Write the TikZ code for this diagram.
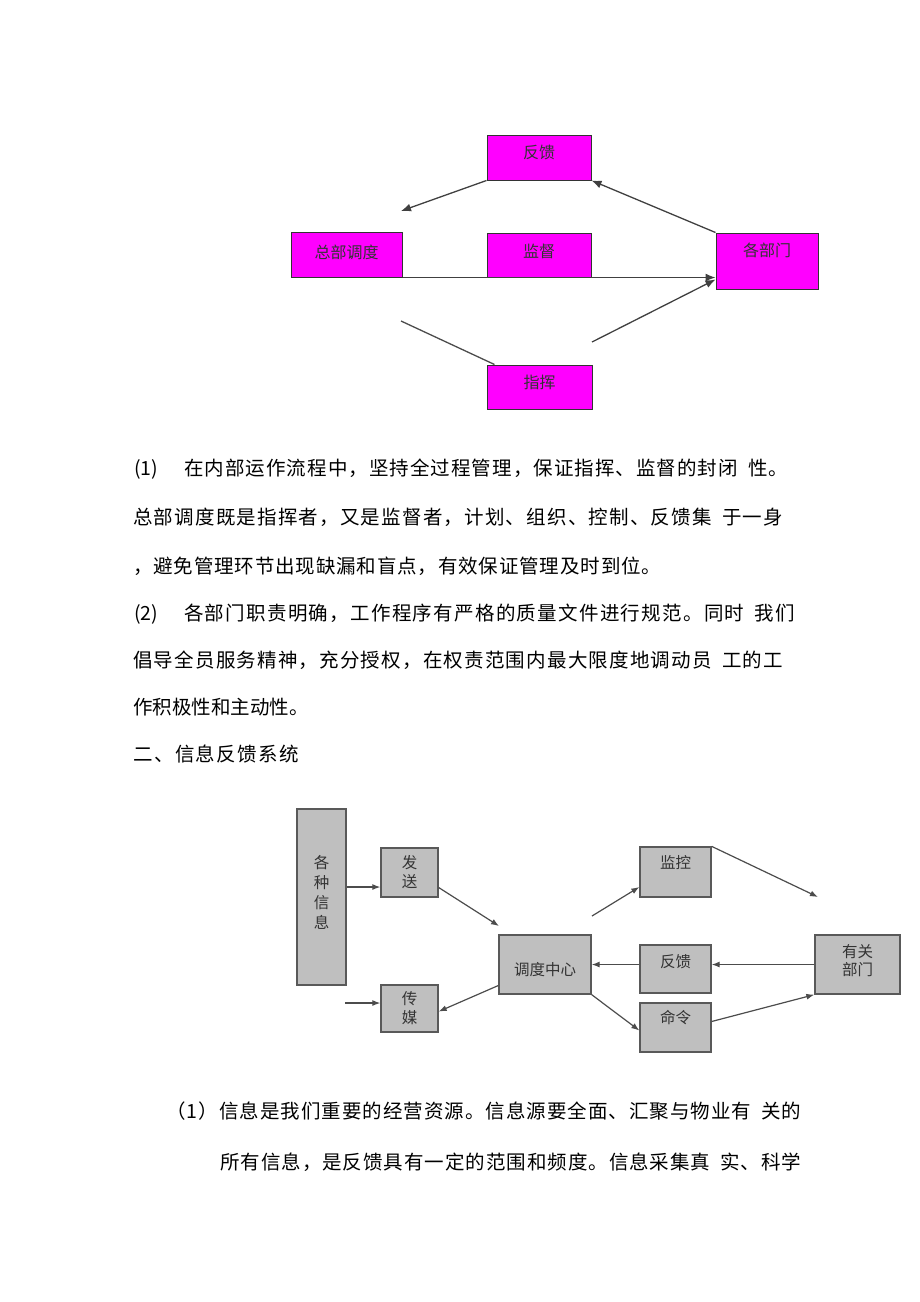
\documentclass[tikz,border=0pt]{standalone}
\usepackage{fontspec}
\newfontfamily\cjk{Noto Sans CJK SC}
\usetikzlibrary{arrows.meta}
\definecolor{pinkfill}{RGB}{255,0,255}
% spread a run of characters evenly in a box
\def\spreadtxt#1{\spreadnext#1\endspread}
\def\spreadnext#1{\ifx#1\endspread\else#1\hskip 0pt plus 1fil\relax\expandafter\spreadnext\fi}
\newcommand\gp{\hskip 8pt\relax}
\tikzset{
  pinkbox/.style={draw=black!80, line width=1pt, fill=pinkfill, inner sep=0pt},
  greybox/.style={draw=black!65, line width=1.3pt, fill=black!25, inner sep=0pt},
  lbl/.style={inner sep=0pt, text=black!80, font=\cjk\fontsize{16}{18}\selectfont},
  glbl/.style={inner sep=0pt, align=center, text=black!80, font=\cjk\fontsize{15.5}{19}\selectfont},
  arr/.style={-{Latex[length=10pt,width=8pt]}, line width=1.3pt, draw=black!75},
  garr/.style={-{Latex[length=8pt,width=6pt]}, line width=1.2pt, draw=black!70},
  plain/.style={line width=1.3pt, draw=black!70},
  txtline/.style={anchor=base west, inner sep=0pt, font=\cjk\fontsize{19.5}{20}\selectfont}
}
\begin{document}
\begin{tikzpicture}[x=1pt,y=-1pt]
\useasboundingbox (0,0) rectangle (920,1302);

% upper chart
\node[pinkbox, minimum width=104pt, minimum height=45pt, label={[lbl,yshift=5.5pt]center:反馈}] (fk) at (539,157.5) {};
\node[pinkbox, minimum width=111pt, minimum height=45pt, label={[lbl,yshift=2.5pt]center:总部调度}] (zb) at (346.5,254.5) {};
\node[pinkbox, minimum width=104pt, minimum height=44pt, label={[lbl,yshift=4pt]center:监督}] (jd) at (539,255) {};
\node[pinkbox, minimum width=102pt, minimum height=56pt, label={[lbl,yshift=11pt]center:各部门}] (gb) at (767,261) {};
\node[pinkbox, minimum width=105pt, minimum height=44pt, label={[lbl,yshift=5pt]center:指挥}] (zh) at (539.5,387) {};

\coordinate (pt_fk) at (401,211) ;
\coordinate (pt_zhr) at (592,342) ;
\coordinate (pt_zhl) at (401,321) ;

\draw[arr] (fk.south west) -- (pt_fk) ;
\draw[arr] (gb.north west) -- (fk.south east) ;
\draw[arr] (zb.south east) -- (zb.south east -| gb.west) ;
\draw[arr] (pt_zhr) -- ([yshift=10pt]gb.south west) ;
\draw[plain] (pt_zhl) -- ([xshift=8pt]zh.north west) ;

% text
\node[txtline] (p1) at (134,475) {\hbox to 654pt{(1)\hspace{26pt}\spreadtxt{在内部运作流程中，坚持全过程管理，保证指挥、监督的封闭\gp 性。}\unskip}};
\node[txtline] (p2) at (133,524.5) {\hbox to 650pt{\spreadtxt{总部调度既是指挥者，又是监督者，计划、组织、控制、反馈集\gp 于一身}\unskip}};
\node[txtline] (p3) at (133,573.5) {\hbox to 528pt{\spreadtxt{，避免管理环节出现缺漏和盲点，有效保证管理及时到位。}\unskip}};
\node[txtline] (p4) at (134,620) {\hbox to 661pt{(2)\hspace{26pt}\spreadtxt{各部门职责明确，工作程序有严格的质量文件进行规范。同时\gp 我们}\unskip}};
\node[txtline] (p5) at (133,667.5) {\hbox to 650pt{\spreadtxt{倡导全员服务精神，充分授权，在权责范围内最大限度地调动员\gp 工的工}\unskip}};
\node[txtline] (p6) at (133,714.5) {作积极性和主动性。};
\node[txtline] (p7) at (133,761) {\hbox to 166pt{\spreadtxt{二、信息反馈系统}\unskip}};

% lower chart
\node[greybox, minimum width=49pt, minimum height=176pt, label={[glbl,yshift=5pt]center:各\\[1pt]种\\[1pt]信\\[1pt]息}] (gz) at (321.5,897) {};
\node[greybox, minimum width=57pt, minimum height=49pt, label={[glbl]center:发\\送}] (fs) at (409.5,872.5) {};
\node[greybox, minimum width=57pt, minimum height=47pt, label={[glbl]center:传\\媒}] (cm) at (409.5,1008.5) {};
\node[greybox, minimum width=92pt, minimum height=59pt, label={[glbl,yshift=-5.5pt]center:调度中心}] (dd) at (545,964.5) {};
\node[greybox, minimum width=71pt, minimum height=50pt, label={[glbl,yshift=9pt]center:监控}] (jk) at (675.5,872) {};
\node[greybox, minimum width=71pt, minimum height=48pt, label={[glbl,yshift=7pt]center:反馈}] (fk2) at (675.5,969) {};
\node[greybox, minimum width=71pt, minimum height=49pt, label={[glbl,yshift=9.5pt]center:命令}] (ml) at (675.5,1027.5) {};
\node[greybox, minimum width=85pt, minimum height=59pt, label={[glbl,yshift=3.5pt]center:有关\\[-1pt]部门}] (yg) at (857.5,964.5) {};

\coordinate (pt_dd) at (499,926) ;
\coordinate (pt_jk) at (592,916) ;
\coordinate (pt_yg) at (818,897) ;
\coordinate (pt_cm) at (345,1003) ;

\draw[garr] ([yshift=10pt]gz.east) -- ([yshift=10pt]gz.east -| fs.west) ;
\draw[garr] ([yshift=-15pt]fs.east) -- (pt_dd) ;
\draw[garr] (pt_jk) -- ([yshift=-15pt]jk.west) ;
\draw[garr] (jk.north east) -- (pt_yg) ;
\draw[garr] (yg.west) -- (yg.west -| fk2.east) ;
\draw[garr] (yg.west -| fk2.west) -- (yg.west -| dd.east) ;
\draw[garr] (dd.south east) -- ([yshift=-3pt]ml.west) ;
\draw[garr] ([yshift=6pt]ml.east) -- (yg.south west) ;
\draw[garr] ([yshift=-21pt]dd.west) -- ([yshift=-3pt]cm.east) ;
\draw[garr] (pt_cm) -- ([yshift=5.5pt]cm.west) ;

% text below
\node[txtline] (p8) at (166,1118.5) {\hbox to 635pt{\spreadtxt{（1）信息是我们重要的经营资源。信息源要全面、汇聚与物业有\gp 关的}\unskip}};
\node[txtline] (p9) at (220,1169) {\hbox to 581pt{\spreadtxt{所有信息，是反馈具有一定的范围和频度。信息采集真\gp 实、科学}\unskip}};

\end{tikzpicture}
\end{document}
